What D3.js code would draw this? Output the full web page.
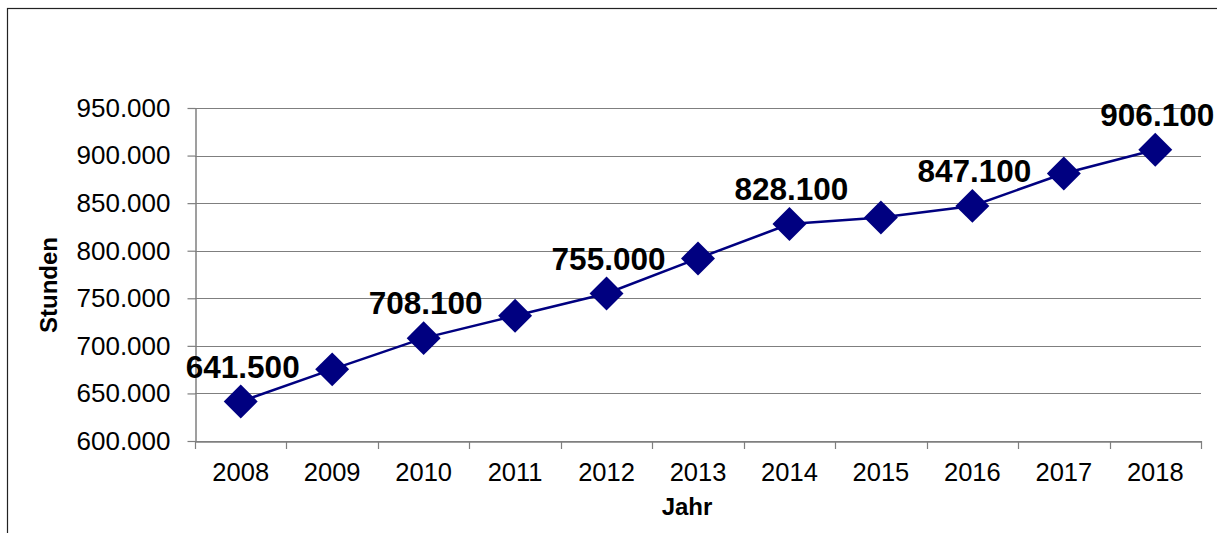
<!DOCTYPE html>
<html>
<head>
<meta charset="utf-8">
<script src="https://cdn.jsdelivr.net/npm/d3@7/dist/d3.min.js"></script>
<style>
  html, body { margin: 0; padding: 0; background: #fff; }
  svg { display: block; font-family: "Liberation Sans", Arial, sans-serif; }
</style>
</head>
<body>
<svg id="chart" width="1217" height="533"></svg>
<script>
// Jahresstunden 2008–2018
const years = ["2008", "2009", "2010", "2011", "2012", "2013", "2014", "2015", "2016", "2017", "2018"];
const hours = [641500, 675300, 708100, 731600, 755000, 791900, 828100, 835000, 847100, 881200, 906100];
// years whose value is printed above the marker
const labelledYears = ["2008", "2010", "2012", "2014", "2016", "2018"];
const yTicks = [600000, 650000, 700000, 750000, 800000, 850000, 900000, 950000];

const de = d3.formatLocale({ decimal: ",", thousands: ".", grouping: [3], currency: ["", " €"] });
const fmt = de.format(",.0f");

const svg = d3.select("#chart");
const plot = { left: 195, right: 1201, top: 108, bottom: 441 };

// outer chart frame
svg.append("rect")
  .attr("x", 7.5).attr("y", 8.5)
  .attr("width", 1400).attr("height", 800)
  .attr("fill", "#fff").attr("stroke", "#222").attr("stroke-width", 1.2);

const x = d3.scaleBand().domain(years).range([plot.left, plot.right]).padding(0);
const y = d3.scaleLinear().domain([600000, 950000]).range([plot.bottom, plot.top]);

// horizontal gridlines
svg.append("g")
  .selectAll("line")
  .data(yTicks)
  .join("line")
  .attr("x1", plot.left).attr("x2", plot.right)
  .attr("y1", d => Math.round(y(d)) + 0.5).attr("y2", d => Math.round(y(d)) + 0.5)
  .attr("stroke", "#7f7f7f").attr("stroke-width", 1.2);

// y axis
const yAxis = svg.append("g")
  .attr("transform", `translate(${plot.left + 0.5},0)`)
  .call(d3.axisLeft(y).tickValues(yTicks).tickFormat(fmt).tickSize(8).tickPadding(17).tickSizeOuter(0));
yAxis.select(".domain").attr("stroke", "#7f7f7f").attr("stroke-width", 1.5);
yAxis.selectAll(".tick line").attr("stroke", "#7f7f7f").attr("stroke-width", 1.2);
yAxis.selectAll(".tick text")
  .attr("font-size", 26).attr("fill", "#000")
  .attr("font-family", "'Liberation Sans', Arial, sans-serif");

// x axis, ticks sit on the category boundaries
const xAxis = svg.append("g")
  .attr("transform", `translate(0,${plot.bottom + 0.5})`)
  .call(d3.axisBottom(x).tickSize(0).tickPadding(21));
xAxis.select(".domain").attr("stroke", "#7f7f7f").attr("stroke-width", 1.5);
xAxis.selectAll(".tick text")
  .attr("font-size", 25.5).attr("fill", "#000")
  .attr("font-family", "'Liberation Sans', Arial, sans-serif");
const bounds = years.map(d => x(d)).concat([x(years[years.length - 1]) + x.bandwidth()]);
svg.append("g")
  .selectAll("line")
  .data(bounds)
  .join("line")
  .attr("x1", d => Math.round(d) + 0.5).attr("x2", d => Math.round(d) + 0.5)
  .attr("y1", plot.bottom).attr("y2", plot.bottom + 8)
  .attr("stroke", "#7f7f7f").attr("stroke-width", 1.2);

const cx = d => x(d) + x.bandwidth() / 2;

// series line
const line = d3.line().x((d, i) => cx(years[i])).y(d => y(d));
svg.append("path")
  .datum(hours)
  .attr("d", line)
  .attr("fill", "none")
  .attr("stroke", "#000080")
  .attr("stroke-width", 2.5);

// diamond markers
const diamond = d3.symbol().type(d3.symbolSquare).size(24 * 24);
svg.append("g")
  .selectAll("path")
  .data(hours)
  .join("path")
  .attr("d", diamond)
  .attr("transform", (d, i) => `translate(${cx(years[i])},${y(d)}) rotate(45)`)
  .attr("fill", "#000080");

// value labels
svg.append("g")
  .selectAll("text")
  .data(years.map((yr, i) => ({ yr, v: hours[i] })).filter(d => labelledYears.includes(d.yr)))
  .join("text")
  .attr("x", d => cx(d.yr) + 2)
  .attr("y", d => y(d.v) - 24)
  .attr("text-anchor", "middle")
  .attr("font-size", 31.5)
  .attr("font-weight", "bold")
  .attr("fill", "#000")
  .text(d => fmt(d.v));

// axis titles
svg.append("text")
  .attr("x", 687).attr("y", 515)
  .attr("text-anchor", "middle")
  .attr("font-size", 24).attr("font-weight", "bold")
  .text("Jahr");

svg.append("text")
  .attr("transform", "translate(57,285) rotate(-90)")
  .attr("text-anchor", "middle")
  .attr("font-size", 24).attr("font-weight", "bold")
  .text("Stunden");
</script>
</body>
</html>
